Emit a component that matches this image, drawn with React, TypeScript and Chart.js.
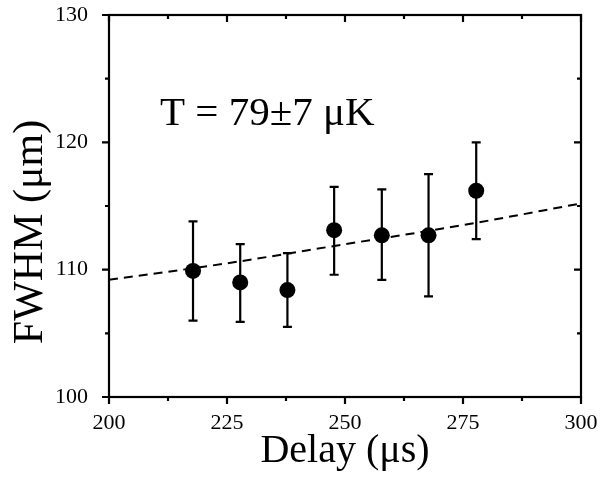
import React, { useEffect, useRef } from "react";
import { Chart, registerables } from "chart.js";

Chart.register(...registerables);

const delays = [217.8, 227.8, 237.8, 247.7, 257.8, 267.7, 277.8];
const fwhm = [109.9, 109.0, 108.4, 113.1, 112.7, 112.7, 116.2];
const errLow = [106.0, 105.9, 105.5, 109.6, 109.2, 107.9, 112.4];
const errHigh = [113.8, 112.0, 111.3, 116.5, 116.3, 117.5, 120.0];
const fitDelay = [200, 225, 250, 275, 300];
const fitFwhm = [109.2, 110.5, 112.0, 113.5, 115.2];
const xMajorTicks = [200, 225, 250, 275, 300];
const xMinorTicks = [212.5, 237.5, 262.5, 287.5];
const yMajorTicks = [100, 110, 120, 130];
const yMinorTicks = [105, 115, 125];
const annotationText = "T = 79±7 μK";
const annotationPos = [210.8, 121.4];
const yTitle = "FWHM (μm)";
const xTitle = "Delay (μs)";

const SERIF = "'Liberation Serif', 'Times New Roman', serif";

const overlayPlugin = {
  id: "overlay",
  afterDatasetsDraw(chart: any) {
    const ctx = chart.ctx;
    const xs = chart.scales.x;
    const ys = chart.scales.y;
    const area = chart.chartArea;
    ctx.save();
    ctx.strokeStyle = "#000";
    ctx.fillStyle = "#000";
    // error bars
    ctx.lineWidth = 2.2;
    for (let i = 0; i < delays.length; i++) {
      const px = xs.getPixelForValue(delays[i]);
      const pLo = ys.getPixelForValue(errLow[i]);
      const pHi = ys.getPixelForValue(errHigh[i]);
      ctx.beginPath();
      ctx.moveTo(px, pLo);
      ctx.lineTo(px, pHi);
      ctx.moveTo(px - 4.5, pLo);
      ctx.lineTo(px + 4.5, pLo);
      ctx.moveTo(px - 4.5, pHi);
      ctx.lineTo(px + 4.5, pHi);
      ctx.stroke();
    }
    // frame
    ctx.lineWidth = 2.2;
    ctx.strokeRect(area.left, area.top, area.right - area.left, area.bottom - area.top);
    // ticks
    const major = 7;
    const minor = 4;
    ctx.beginPath();
    for (const v of xMajorTicks) {
      const p = xs.getPixelForValue(v);
      ctx.moveTo(p, area.bottom);
      ctx.lineTo(p, area.bottom + major);
      ctx.moveTo(p, area.top);
      ctx.lineTo(p, area.top + major);
    }
    for (const v of xMinorTicks) {
      const p = xs.getPixelForValue(v);
      ctx.moveTo(p, area.bottom);
      ctx.lineTo(p, area.bottom + minor);
      ctx.moveTo(p, area.top);
      ctx.lineTo(p, area.top + minor);
    }
    for (const v of yMajorTicks) {
      const p = ys.getPixelForValue(v);
      ctx.moveTo(area.left, p);
      ctx.lineTo(area.left - major, p);
      ctx.moveTo(area.right, p);
      ctx.lineTo(area.right - major, p);
    }
    for (const v of yMinorTicks) {
      const p = ys.getPixelForValue(v);
      ctx.moveTo(area.left, p);
      ctx.lineTo(area.left - minor, p);
      ctx.moveTo(area.right, p);
      ctx.lineTo(area.right - minor, p);
    }
    ctx.stroke();
    // annotation
    ctx.font = `41px ${SERIF}`;
    ctx.textAlign = "left";
    ctx.textBaseline = "alphabetic";
    ctx.fillText(
      annotationText,
      xs.getPixelForValue(annotationPos[0]),
      ys.getPixelForValue(annotationPos[1])
    );
    // y axis title
    ctx.save();
    ctx.translate(ys.left + 42, (area.top + area.bottom) / 2 + 26);
    ctx.rotate(-Math.PI / 2);
    ctx.font = `42px ${SERIF}`;
    ctx.textAlign = "center";
    ctx.textBaseline = "alphabetic";
    ctx.fillText(yTitle, 0, 0);
    ctx.restore();
    ctx.restore();
  },
};

export default function App() {
  const ref = useRef<HTMLCanvasElement>(null);
  useEffect(() => {
    document.body.style.margin = "0";
    const chart = new Chart(ref.current as HTMLCanvasElement, {
      type: "scatter",
      data: {
        datasets: [
          {
            type: "line",
            label: "fit",
            data: fitDelay.map((x, i) => ({ x, y: fitFwhm[i] })),
            borderColor: "#000",
            borderWidth: 2,
            borderDash: [9, 6],
            pointRadius: 0,
            cubicInterpolationMode: "monotone",
            fill: false,
          },
          {
            type: "scatter",
            label: "FWHM",
            data: delays.map((x, i) => ({ x, y: fwhm[i] })),
            backgroundColor: "#000",
            borderColor: "#000",
            pointRadius: 8,
            pointBorderWidth: 0,
          },
        ],
      },
      options: {
        responsive: false,
        animation: false,
        events: [],
        layout: { padding: { top: 15, right: 19, left: 0, bottom: 0 } },
        plugins: { legend: { display: false }, tooltip: { enabled: false } },
        scales: {
          x: {
            type: "linear",
            min: 200,
            max: 300,
            grid: { display: false },
            border: { display: false },
            afterFit: (s: any) => {
              s.height = 86;
              s.paddingLeft = 0;
              s.paddingRight = 0;
            },
            afterBuildTicks: (s: any) => {
              s.ticks = xMajorTicks.map((v) => ({ value: v }));
            },
            ticks: {
              color: "#000",
              font: { family: SERIF, size: 22 },
              padding: 5,
              maxRotation: 0,
            },
            title: {
              display: true,
              text: xTitle,
              color: "#000",
              font: { family: SERIF, size: 40 },
              padding: { top: 0, bottom: 8 },
            },
          },
          y: {
            type: "linear",
            min: 100,
            max: 130,
            grid: { display: false },
            border: { display: false },
            afterFit: (s: any) => {
              s.width = 109;
              s.paddingTop = 0;
              s.paddingBottom = 0;
            },
            afterBuildTicks: (s: any) => {
              s.ticks = yMajorTicks.map((v) => ({ value: v }));
            },
            ticks: {
              color: "#000",
              font: { family: SERIF, size: 22 },
              padding: 13,
            },
            title: { display: false },
          },
        },
      },
      plugins: [overlayPlugin],
    });
    return () => chart.destroy();
  }, []);
  return (
    <div style={{ width: 600, height: 483 }}>
      <canvas ref={ref} width={600} height={483} style={{ display: "block" }} />
    </div>
  );
}
